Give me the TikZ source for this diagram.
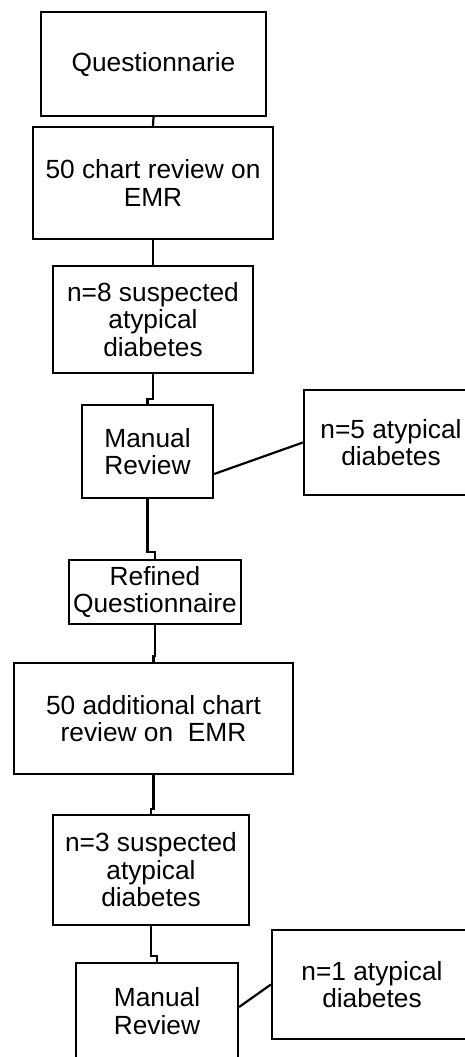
\documentclass[tikz,border=0pt]{standalone}
\usepackage{fontspec}
\setmainfont{Liberation Sans}
\usetikzlibrary{calc}
\begin{document}
\begin{tikzpicture}[x=1pt,y=1pt,
  box/.style={draw=black,line width=2.2pt,rectangle,inner sep=0pt,align=center,
    font=\fontsize{26.3}{27.5}\selectfont},
  conn/.style={draw=black,line width=2.2pt}]
\useasboundingbox (0,0) rectangle (465,-1057);
\clip (0,0) rectangle (465,-1057);
\node[box,minimum width=225,minimum height=104] (b1) at (153.5,-64) {Questionnarie};
\node[box,minimum width=240,minimum height=112] (b2) at (153,-183) {50 chart review on\\EMR};
\node[box,minimum width=200,minimum height=107] (b3) at (153,-319.5) {n=8 suspected\\atypical\\diabetes};
\node[box,minimum width=131,minimum height=93] (b4) at (147.5,-451.5) {Manual\\Review};
\node[box,minimum width=174,minimum height=105] (b5) at (391,-442.5) {n=5 atypical\\diabetes};
\node[box,minimum width=172,minimum height=64] (b6) at (155,-592) {Refined\\Questionnaire};
\node[box,minimum width=279,minimum height=111] (b7) at (153.5,-718.5) {50 additional chart\\review on\ \ EMR};
\node[box,minimum width=196,minimum height=110] (b8) at (151,-870) {n=3 suspected\\atypical\\diabetes};
\node[box,minimum width=162,minimum height=96] (b9) at (157,-1011) {Manual\\Review};
\node[box,minimum width=200,minimum height=109] (b10) at (372,-984.5) {n=1 atypical\\diabetes};

\coordinate (j34) at ($(b4.north)+(0,5)$);
\coordinate (j46) at ($(b6.north)+(0,7)$);
\coordinate (j67) at ($(b7.north)+(0,6)$);
\coordinate (j78) at ($(b8.north)+(0,5)$);
\coordinate (j89) at ($(b9.north)+(0,6)$);

\draw[conn] (b1.south) -- (b2.north);
\draw[conn] (b2.south) -- (b3.north);
\draw[conn] (b3.south) |- (j34) -- (b4.north);
\draw[conn] (b4.south) |- (j46) -- (b6.north);
\draw[conn] (b6.south) |- (j67) -- (b7.north);
\draw[conn] (b7.south) |- (j78) -- (b8.north);
\draw[conn] (b8.south) |- (j89) -- (b9.north);
\draw[conn] ($(b4.east)+(0,-22.5)$) -- (b5.west);
\draw[conn] ($(b9.east)+(0,4)$) -- (b10.west);
\end{tikzpicture}
\end{document}
